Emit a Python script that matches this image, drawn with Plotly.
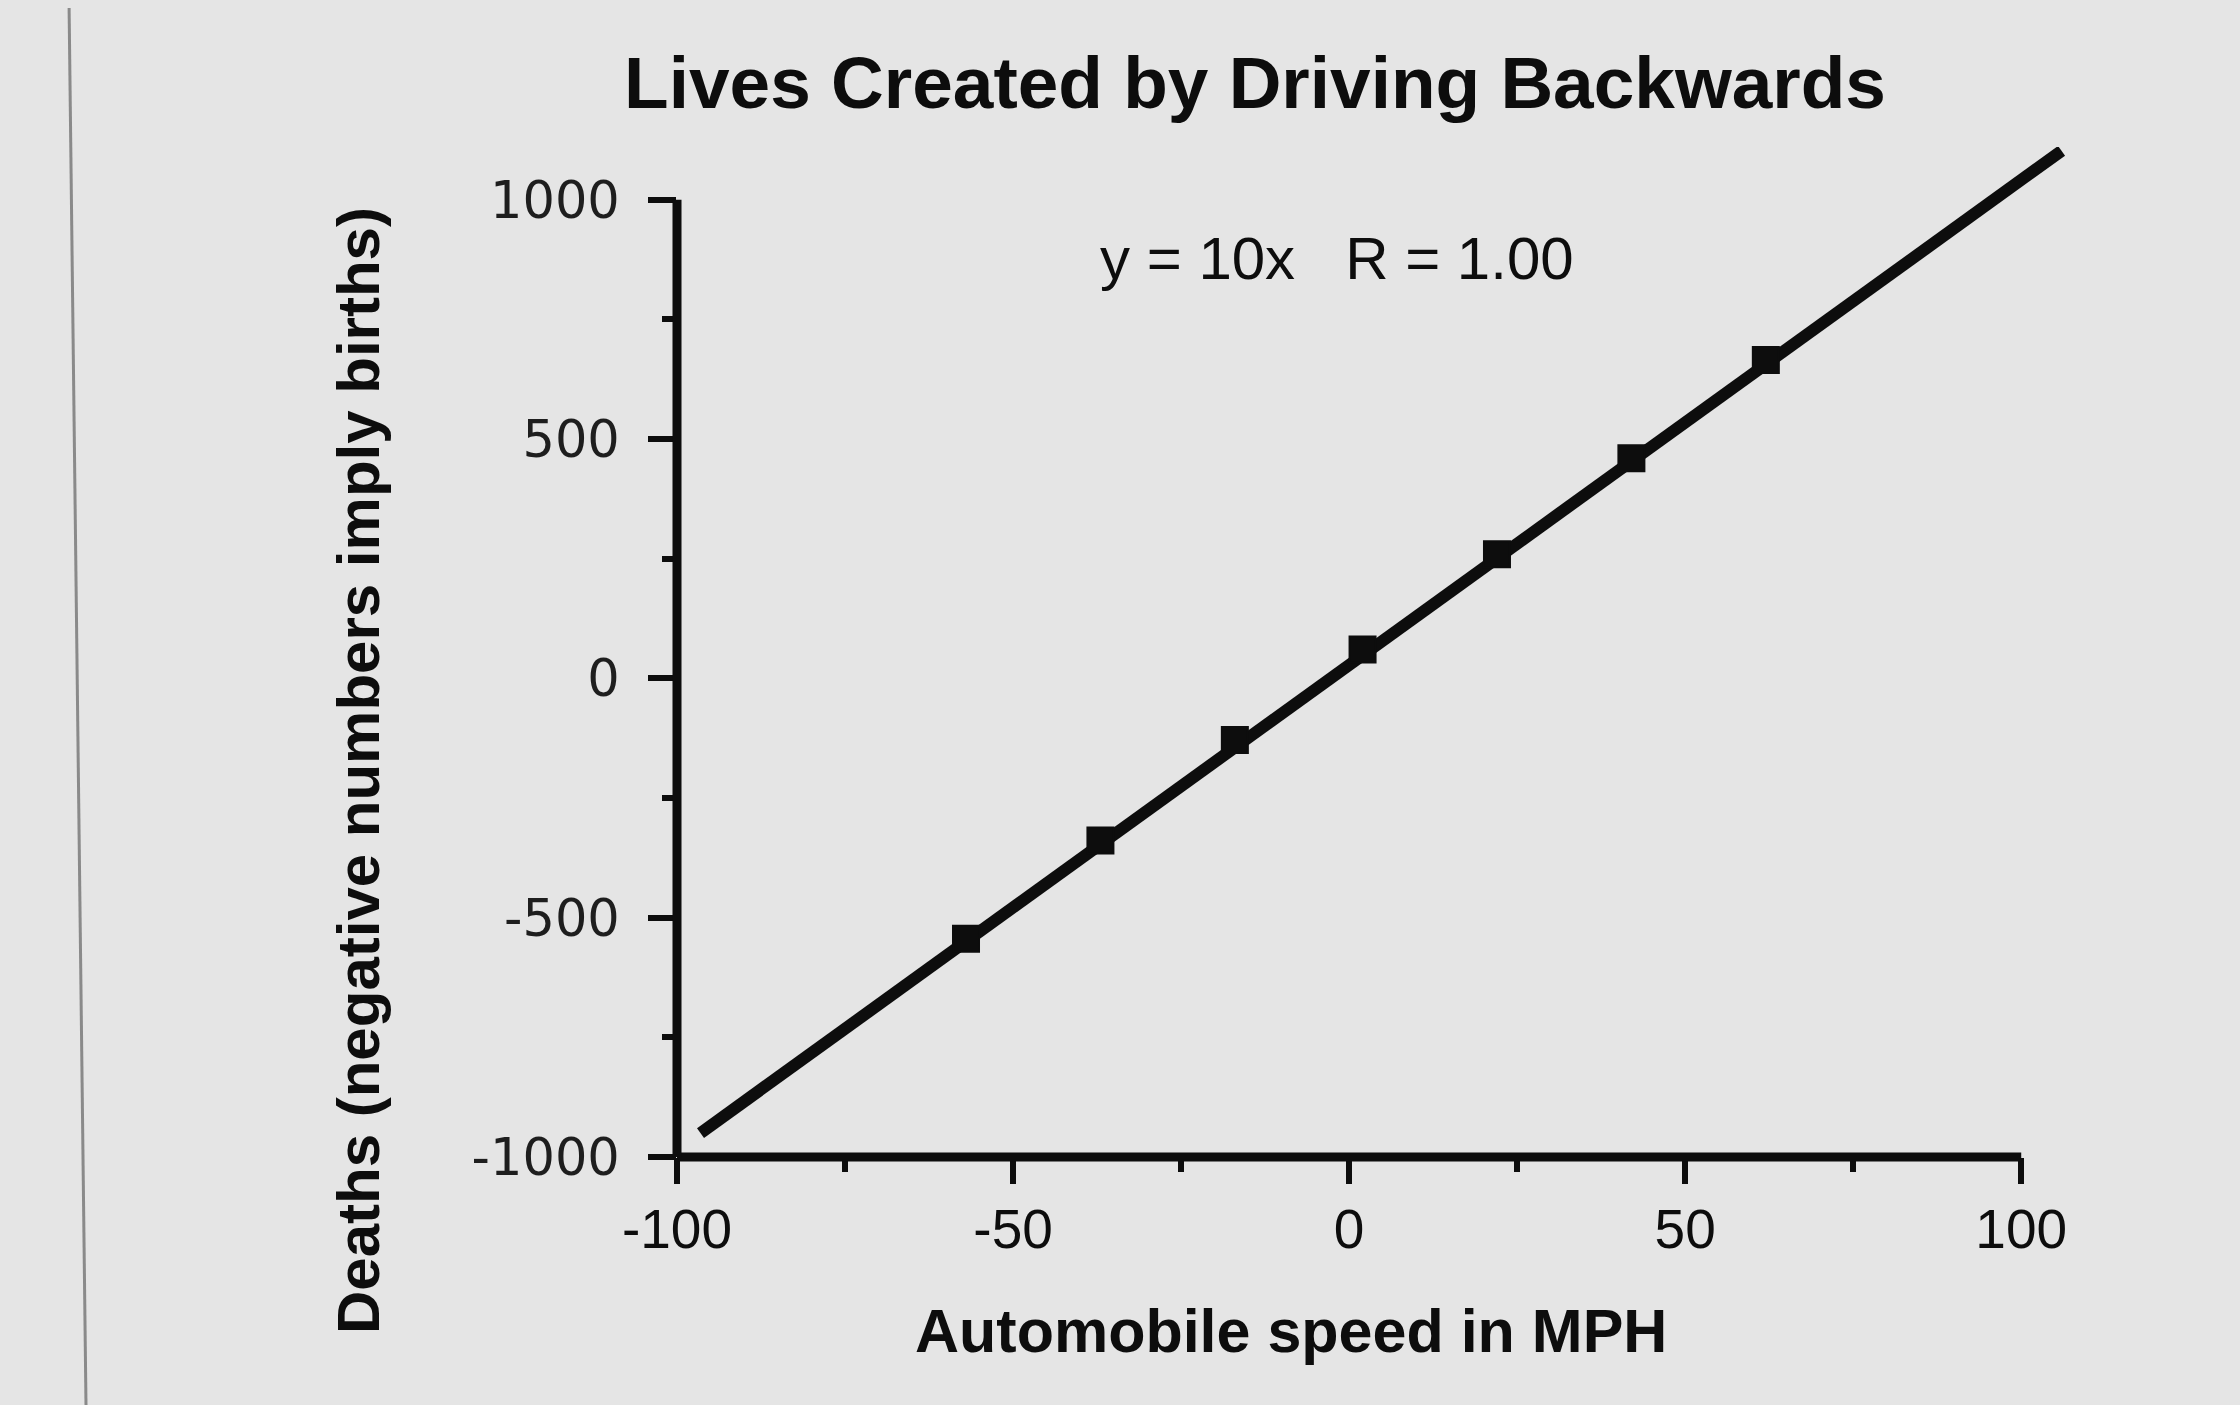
import plotly.graph_objects as go

# ---- data ----
speed_mph = [-57, -37, -17, 2, 22, 42, 62]
deaths = [-544, -339, -129, 60, 259, 460, 665]

fit_x = [-96.5, 106]
fit_y = [-950, 1102]

x_tick_vals = [-100, -50, 0, 50, 100]
x_tick_text = ["-100", "-50", "0", "50", "100"]
x_minor_ticks = [-75, -25, 25, 75]

y_tick_vals = [-1000, -500, 0, 500, 1000]
y_tick_text = ["-1000", "-500", "0", "500", "1000"]
y_minor_ticks = [-750, -250, 250, 750]

title_text = "Lives Created by Driving Backwards"
x_title = "Automobile speed in MPH"
y_title = "Deaths (negative numbers imply births)"
fit_label = "y = 10x &nbsp; R = 1.00"

BG = "#e5e5e5"
INK = "#0d0d0d"
FONT = "Liberation Sans, Arial, Helvetica, sans-serif"

# figure is placed by the page with an 8px body margin
W, H = 2232, 1397
L, T, PW, PH = 669, 139, 1398, 1010

fig = go.Figure()
fig.add_trace(go.Scatter(
    x=fit_x, y=fit_y, mode="lines",
    line=dict(color=INK, width=12),
    hoverinfo="skip", showlegend=False,
))
fig.add_trace(go.Scatter(
    x=speed_mph, y=deaths, mode="markers",
    marker=dict(symbol="square", size=26, color=INK, line=dict(color=INK, width=2)),
    showlegend=False,
))

fig.update_layout(
    width=W, height=H,
    paper_bgcolor=BG, plot_bgcolor=BG,
    margin=dict(l=L, r=W - L - PW, t=T, b=H - T - PH),
    font=dict(family=FONT, color=INK),
    title=dict(
        text="<b>" + title_text + "</b>",
        xref="paper", x=(1247 - L) / PW, xanchor="center",
        yref="container", y=1 - 74 / H, yanchor="middle",
        font=dict(size=73, family=FONT, color=INK),
    ),
    showlegend=False,
)

fig.update_xaxes(
    range=[-100, 108],
    showgrid=False, zeroline=False, showline=False,
    tickmode="array", tickvals=x_tick_vals, ticktext=x_tick_text,
    ticks="outside", ticklen=26, tickwidth=6, tickcolor=INK,
    ticklabelstandoff=-2,
    tickfont=dict(size=55, family=FONT, color=INK),
    minor=dict(tickmode="array", tickvals=x_minor_ticks, ticks="outside",
               ticklen=14, tickwidth=6, tickcolor=INK, showgrid=False),
)
fig.update_yaxes(
    range=[-1000, 1110],
    showgrid=False, zeroline=False, showline=False,
    tickmode="array", tickvals=y_tick_vals, ticktext=y_tick_text,
    ticks="outside", ticklen=28, tickwidth=6, tickcolor=INK,
    ticklabelstandoff=18,
    tickfont=dict(size=51, family="DejaVu Sans, sans-serif", color="#1e1e1e"),
    minor=dict(tickmode="array", tickvals=y_minor_ticks, ticks="outside",
               ticklen=14, tickwidth=6, tickcolor=INK, showgrid=False),
)

# axis lines (frame of the plot, spanning the labelled range only)
fig.add_shape(type="line", xref="x", yref="paper",
              x0=x_tick_vals[0], x1=x_tick_vals[-1], y0=0, y1=0,
              line=dict(color=INK, width=9))
fig.add_shape(type="line", xref="paper", yref="y",
              x0=0, x1=0, y0=y_tick_vals[0], y1=y_tick_vals[-1],
              line=dict(color=INK, width=9))
# page edge visible in the scan
fig.add_shape(type="line", xref="paper", yref="paper",
              x0=(61 - L) / PW, x1=(78 - L) / PW,
              y0=(T + PH + 8) / PH, y1=(T + PH - H) / PH,
              line=dict(color="#8a8a8a", width=3))

def py(page_y):
    return (T + PH - (page_y - 8)) / PH

def px(page_x):
    return (page_x - 8 - L) / PW

fig.add_annotation(text=fit_label, xref="paper", yref="paper",
                   x=px(1337), y=py(258),
                   xanchor="center", yanchor="middle", showarrow=False,
                   font=dict(size=60, family=FONT, color=INK))
fig.add_annotation(text="<b>" + x_title + "</b>", xref="paper", yref="paper",
                   x=px(1291), y=py(1331),
                   xanchor="center", yanchor="middle", showarrow=False,
                   font=dict(size=61, family=FONT, color=INK))
fig.add_annotation(text="<b>" + y_title + "</b>", xref="paper", yref="paper",
                   x=px(358), y=py(771),
                   xanchor="center", yanchor="middle", showarrow=False,
                   textangle=-90,
                   font=dict(size=60, family=FONT, color=INK))

fig.write_html("out.html",
               post_script="document.body.style.background='" + BG + "';")
